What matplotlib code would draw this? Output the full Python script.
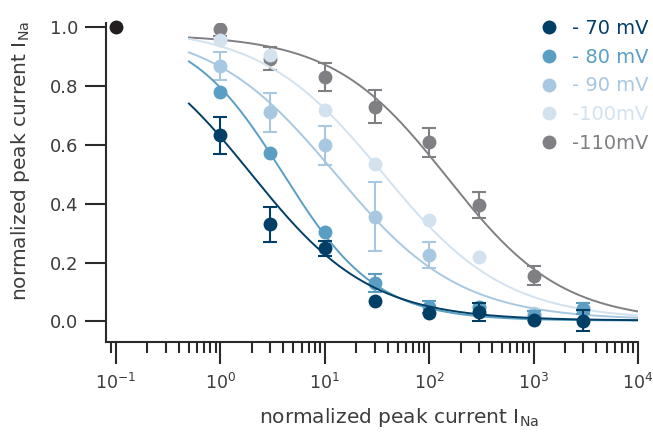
import numpy as np
import matplotlib
matplotlib.use("Agg")
import matplotlib.pyplot as plt
from matplotlib.lines import Line2D

plt.rcParams['font.family'] = ['DejaVu Sans']
plt.rcParams['mathtext.default'] = 'regular'

# concentrations (x) and normalized peak currents per holding potential
conc = [1, 3, 10, 30, 100, 300, 1000, 3000]

i70 = [0.633, 0.33, 0.248, 0.071, 0.029, 0.033, 0.005, 0.003]
e70 = [0.063, 0.06, 0.024, 0.0, 0.0, 0.03, 0.0, 0.036]
i80 = [0.78, 0.571, 0.305, 0.13, 0.05, 0.048, 0.02, 0.044]
e80 = [0.0, 0.0, 0.0, 0.03, 0.02, 0.0, 0.015, 0.02]
i90 = [0.867, 0.71, 0.598, 0.355, 0.225, 0.05, 0.025, 0.04]
e90 = [0.048, 0.065, 0.065, 0.117, 0.045, 0.0, 0.0, 0.0]
i100 = [0.955, 0.905, 0.718, 0.534, 0.344, 0.218, 0.03, 0.045]
e100 = [0.0, 0.0, 0.0, 0.0, 0.0, 0.0, 0.0, 0.0]
i110 = [0.993, 0.893, 0.83, 0.73, 0.608, 0.395, 0.156, np.nan]
e110 = [0.024, 0.04, 0.048, 0.056, 0.05, 0.045, 0.031, 0.0]

labels = ['- 70 mV', '- 80 mV', '- 90 mV', '-100mV', '-110mV']
colors = ['#023f66', '#5a9fc3', '#a8c8e1', '#d2e2ef', '#808084']

# Hill fit parameters: top, bottom, IC50, slope
fit_top = [1.0, 1.0, 1.0, 1.0, 0.975]
fit_bottom = [0.003, 0.003, 0.005, 0.005, 0.0]
fit_ic50 = [1.97, 4.0, 12.6, 36.0, 150.0]
fit_n = [0.76, 0.97, 0.73, 0.74, 0.79]

# control point
ctrl_x = [0.1]
ctrl_y = [1.0]

means = [i70, i80, i90, i100, i110]
errs = [e70, e80, e90, e100, e110]

fig = plt.figure(figsize=(6.53, 4.33), dpi=100)
ax = fig.add_axes([0.1623, 0.2102, 0.8147, 0.7367])

xfit = np.logspace(np.log10(0.5), 4, 300)
x = np.array(conc, dtype=float)

# draw -110 first, -70 last (on top)
for k in range(4, -1, -1):
    top, bot, c50, n = fit_top[k], fit_bottom[k], fit_ic50[k], fit_n[k]
    yfit = bot + (top - bot) / (1 + (xfit / c50) ** n)
    z = 2 + (4 - k) * 0.5
    ax.plot(xfit, yfit, color=colors[k], lw=1.4, zorder=z)
    y = np.array(means[k], dtype=float)
    e = np.array(errs[k], dtype=float)
    m = e > 0
    ax.errorbar(x[m], y[m], yerr=e[m], fmt='none', ecolor=colors[k],
                elinewidth=1.5, capsize=5, capthick=1.5, zorder=z + 0.1)
    ax.plot(x, y, 'o', color=colors[k], ms=10, mew=0, zorder=z + 0.2)

ax.plot(ctrl_x, ctrl_y, 'o', color='#231f20', ms=10, mew=0,
        zorder=6, clip_on=False)

ax.set_xscale('log')
ax.set_xlim(10 ** -1.0957, 1e4)
ax.set_ylim(-0.0696, 1.0136)
ax.set_yticks([0.0, 0.2, 0.4, 0.6, 0.8, 1.0])
ax.set_yticklabels(['0.0', '0.2', '0.4', '0.6', '0.8', '1.0'])
ax.set_xticks([1e-1, 1e0, 1e1, 1e2, 1e3, 1e4])
ax.set_xticklabels(['$10^{-1}$', '$10^{0}$', '$10^{1}$', '$10^{2}$',
                    '$10^{3}$', '$10^{4}$'])

for s in ['top', 'right']:
    ax.spines[s].set_visible(False)
for s in ['left', 'bottom']:
    ax.spines[s].set_linewidth(1.5)
    ax.spines[s].set_color('#2a2a2a')

txt = '#3c3c3c'
ax.tick_params(axis='y', which='major', length=15, width=1.5,
               color='#2a2a2a', labelsize=13, labelcolor=txt, pad=5)
ax.tick_params(axis='x', which='major', length=16, width=1.5,
               color='#2a2a2a', labelsize=12.5, labelcolor=txt, pad=6)
ax.tick_params(axis='x', which='minor', length=8, width=1.5,
               color='#2a2a2a')

ax.set_xlabel(r'normalized peak current I$_{Na}$', fontsize=14.5, color=txt)
ax.set_ylabel(r'normalized peak current I$_{Na}$', fontsize=14.5, color=txt)
ax.xaxis.set_label_coords(0.551, -0.2)
ax.yaxis.set_label_coords(-0.14, 0.567)

handles = [Line2D([], [], ls='none', marker='o', ms=10, mew=0, color=c)
           for c in colors]
leg = fig.legend(handles, labels, loc='upper left',
                 bbox_to_anchor=(539 / 653, 1 - 19 / 433),
                 frameon=False, fontsize=14, handlelength=1.0,
                 handletextpad=0.7, labelspacing=0.5, borderpad=0,
                 borderaxespad=0)
for t, c in zip(leg.get_texts(), colors):
    t.set_color(c)

fig.savefig('out.png', dpi=100)
